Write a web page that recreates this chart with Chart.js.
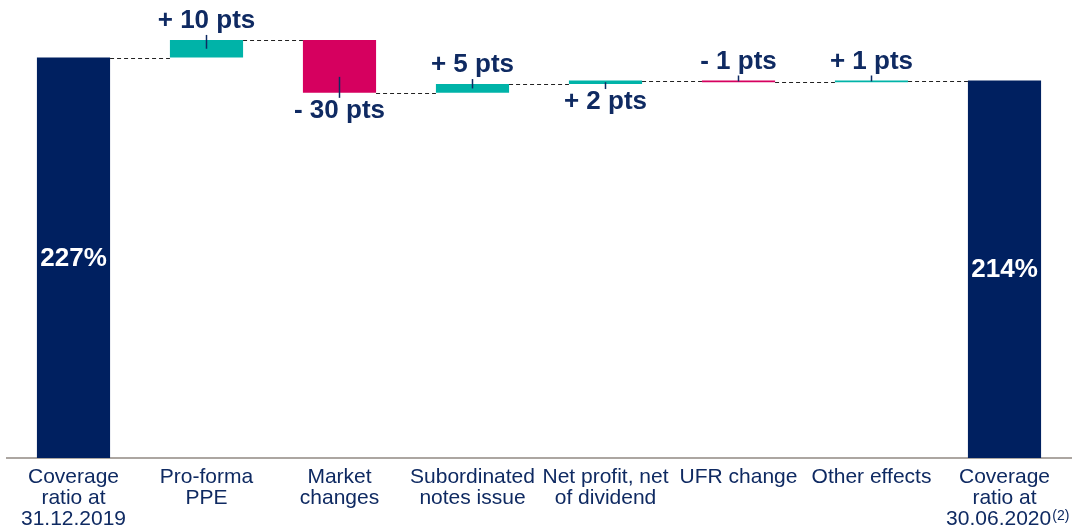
<!DOCTYPE html>
<html>
<head>
<meta charset="utf-8">
<script src="https://cdn.jsdelivr.net/npm/chart.js@4.4.0/dist/chart.umd.min.js"></script>
<style>
  html, body { margin: 0; padding: 0; background: #fff; }
  #wrap { width: 1079px; height: 529px; position: relative; }
</style>
</head>
<body>
<div id="wrap"><canvas id="waterfall"></canvas></div>
<script>
// categorias e valores do grafico
const categorias = [
    ['Coverage', 'ratio at', '31.12.2019'],
    ['Pro-forma', 'PPE'],
    ['Market', 'changes'],
    ['Subordinated', 'notes issue'],
    ['Net profit, net', 'of dividend'],
    'UFR change',
    'Other effects',
    ['Coverage', 'ratio at', '30.06.2020  ']
];
const valores = [227, 10, -30, 5, 2, -1, 1, 214];
const totais = [true, false, false, false, false, false, false, true];
const nota_final = '(2)';

// lado do rotulo de cada variacao
const lado_rotulo = ['in', 'above', 'below', 'above', 'below', 'above', 'above', 'in'];

const AZUL = '#002060';
const VERDE = '#00b3a8';
const VERMELHO = '#d6005f';
const TEXTO = '#0f2a62';
const PAD_TICKS = 1;

// monta as barras flutuantes a partir dos valores
var acumulado = 0;
const intervalos = [];
const cores = [];
const rotulos = [];
for (var i = 0; i < valores.length; i++) {
    if (totais[i]) {
        intervalos.push([0, valores[i]]);
        acumulado = valores[i];
        cores.push(AZUL);
        rotulos.push(valores[i] + '%');
    } else {
        intervalos.push([acumulado, acumulado + valores[i]]);
        acumulado += valores[i];
        cores.push(valores[i] >= 0 ? VERDE : VERMELHO);
        rotulos.push((valores[i] >= 0 ? '+ ' : '- ') + Math.abs(valores[i]) + ' pts');
    }
}

const rotulosPlugin = {
    id: 'rotulos',
    afterDatasetsDraw(chart) {
        const ctx = chart.ctx;
        const y = chart.scales.y;
        const barras = chart.getDatasetMeta(0).data;
        ctx.save();

        // linhas tracejadas ligando as barras
        ctx.strokeStyle = '#222';
        ctx.lineWidth = 1;
        ctx.setLineDash([4, 3]);
        for (var i = 0; i < barras.length - 1; i++) {
            const a = barras[i], b = barras[i + 1];
            const py = Math.round(y.getPixelForValue(intervalos[i][1])) + 0.5;
            ctx.beginPath();
            ctx.moveTo(a.x + a.width / 2, py);
            ctx.lineTo(b.x - b.width / 2, py);
            ctx.stroke();
        }
        ctx.setLineDash([]);

        ctx.textAlign = 'center';
        ctx.textBaseline = 'middle';
        ctx.font = 'bold 26px "Liberation Sans", Arial, sans-serif';
        barras.forEach(function (bar, i) {
            const topo = Math.min(bar.y, bar.base);
            const fundo = Math.max(bar.y, bar.base);
            const h = fundo - topo;
            if (lado_rotulo[i] === 'in') {
                ctx.fillStyle = '#fff';
                ctx.fillText(rotulos[i], bar.x, (topo + fundo) / 2 + 1);
                return;
            }
            ctx.fillStyle = TEXTO;
            ctx.strokeStyle = TEXTO;
            ctx.lineWidth = 1.5;
            ctx.beginPath();
            if (lado_rotulo[i] === 'above') {
                ctx.fillText(rotulos[i], bar.x, topo - 19);
                ctx.moveTo(bar.x, topo - 5);
                ctx.lineTo(bar.x, topo + Math.min(9, h / 2));
            } else {
                ctx.fillText(rotulos[i], bar.x, fundo + 18);
                ctx.moveTo(bar.x, fundo - Math.min(16, h / 2));
                ctx.lineTo(bar.x, fundo + 5);
            }
            ctx.stroke();
        });
        ctx.restore();
    },
    afterDraw(chart) {
        // nota de rodape ao lado da ultima data
        const ctx = chart.ctx;
        const x = chart.scales.x;
        const ultimo = categorias[categorias.length - 1];
        const linha = ultimo[ultimo.length - 1];
        ctx.save();
        ctx.font = '21px "Liberation Sans", Arial, sans-serif';
        const larg = ctx.measureText(linha).width;
        const larg_txt = ctx.measureText(linha.trim()).width;
        const cx = x.getPixelForTick(categorias.length - 1);
        const px = cx - larg / 2 + larg_txt + 1;
        const py = x.top + PAD_TICKS + 2 * 21 + 8;
        ctx.font = '14px "Liberation Sans", Arial, sans-serif';
        ctx.fillStyle = TEXTO;
        ctx.textAlign = 'left';
        ctx.textBaseline = 'top';
        ctx.fillText(nota_final, px, py);
        ctx.restore();
    }
};

const config = {
    type: 'bar',
    data: {
        labels: categorias,
        datasets: [{
            data: intervalos,
            backgroundColor: cores,
            borderWidth: 0,
            categoryPercentage: 1,
            barPercentage: 0.55
        }]
    },
    options: {
        responsive: false,
        animation: false,
        layout: { padding: { top: 17, left: 7, right: 8, bottom: 0 } },
        plugins: {
            legend: { display: false },
            tooltip: { enabled: false }
        },
        scales: {
            x: {
                grid: { display: false },
                border: { display: true, color: '#aca6a1', width: 2 },
                afterFit: function (scale) { scale.height = 71; },
                ticks: {
                    color: TEXTO,
                    padding: PAD_TICKS,
                    maxRotation: 0,
                    autoSkip: false,
                    font: { family: '"Liberation Sans", Arial, sans-serif', size: 21, lineHeight: 1.0 }
                }
            },
            y: {
                display: false,
                min: 0,
                max: 250
            }
        }
    },
    plugins: [rotulosPlugin]
};

const canvas = document.getElementById('waterfall');
canvas.width = 1079;
canvas.height = 529;
const grafico = new Chart(canvas.getContext('2d'), config);
</script>
</body>
</html>
